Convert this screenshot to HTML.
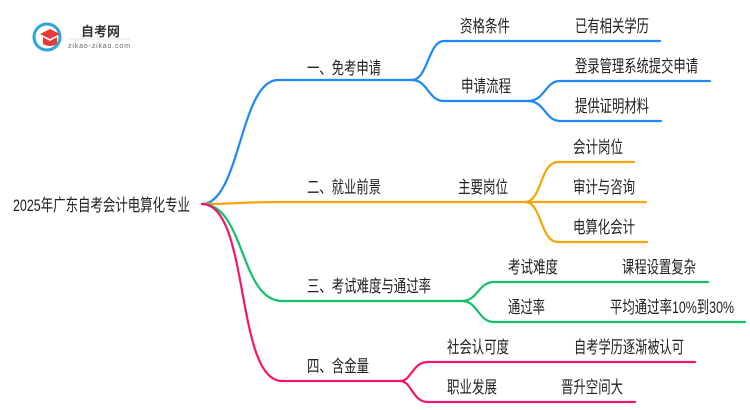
<!DOCTYPE html>
<html><head><meta charset="utf-8"><style>
html,body{margin:0;padding:0;background:#fff;}
svg{display:block;}
text{font-family:"Liberation Sans","Noto Sans CJK SC",sans-serif;font-size:17px;fill:#222;}
</style></head><body>
<svg width="750" height="410" viewBox="0 0 750 410" xmlns="http://www.w3.org/2000/svg">
<g fill="none" stroke-width="2.2" stroke-linecap="round">
<path d="M202 204 C240 204 240 80 278 80 L412 80" stroke="#1e88f5"/>
<path d="M412 80 C428 80 428 41 444 41 L660 41" stroke="#1e88f5"/>
<path d="M412 80 C428 80 428 101 444 101 L528 101" stroke="#1e88f5"/>
<path d="M528 101 C545 101 545 81 560 81 L710 81" stroke="#1e88f5"/>
<path d="M528 101 C545 101 545 121 560 121 L661 121" stroke="#1e88f5"/>
<path d="M202 204 C240 204 240 202 280 202 L525 202" stroke="#f5a50a"/>
<path d="M525 202 C542 202 540 162 558 162 L634 162" stroke="#f5a50a"/>
<path d="M525 202 L646 202" stroke="#f5a50a"/>
<path d="M525 202 C542 202 540 242 558 242 L647 242" stroke="#f5a50a"/>
<path d="M202 204 C245 204 240 301 282 301 L462 301" stroke="#12c06a"/>
<path d="M462 301 C478 301 478 282 494 282 L708 282" stroke="#12c06a"/>
<path d="M462 301 C478 301 478 322 494 322 L745 322" stroke="#12c06a"/>
<path d="M202 204 C250 204 235 381 282 381 L400 381" stroke="#f5156c"/>
<path d="M400 381 C412 381 412 362 428 362 L695 362" stroke="#f5156c"/>
<path d="M400 381 C412 381 412 402 428 402 L635 402" stroke="#f5156c"/>
</g>
<circle cx="47" cy="37" r="13" fill="none" stroke="#2aa7d8" stroke-width="3"/>
<path d="M40 34 L50 29 L60 34 L50 39 Z" fill="#e8393a"/>
<path d="M43 37 L43 44 Q50 48 57 44 L57 37 L50 41 Z" fill="#e8393a"/>
<text x="81" y="36" style="font-size:13px;font-weight:bold;fill:#333">自考网</text>
<line x1="67" y1="39" x2="130" y2="39" stroke="#ccc" stroke-width="0.6"/>
<text x="68" y="48" style="font-size:7px;fill:#666" textLength="62">zikao-zikao.com</text>
<text x="13" y="211" textLength="177" lengthAdjust="spacingAndGlyphs">2025年广东自考会计电算化专业</text>
<text x="307" y="74" textLength="74" lengthAdjust="spacingAndGlyphs">一、免考申请</text>
<text x="460" y="32" textLength="50" lengthAdjust="spacingAndGlyphs">资格条件</text>
<text x="575" y="32" textLength="74" lengthAdjust="spacingAndGlyphs">已有相关学历</text>
<text x="461" y="92" textLength="50" lengthAdjust="spacingAndGlyphs">申请流程</text>
<text x="575" y="72" textLength="123" lengthAdjust="spacingAndGlyphs">登录管理系统提交申请</text>
<text x="575" y="112" textLength="74" lengthAdjust="spacingAndGlyphs">提供证明材料</text>
<text x="307" y="193" textLength="74" lengthAdjust="spacingAndGlyphs">二、就业前景</text>
<text x="458" y="193" textLength="50" lengthAdjust="spacingAndGlyphs">主要岗位</text>
<text x="573" y="153" textLength="50" lengthAdjust="spacingAndGlyphs">会计岗位</text>
<text x="573" y="193" textLength="62" lengthAdjust="spacingAndGlyphs">审计与咨询</text>
<text x="573" y="233" textLength="62" lengthAdjust="spacingAndGlyphs">电算化会计</text>
<text x="307" y="292" textLength="124" lengthAdjust="spacingAndGlyphs">三、考试难度与通过率</text>
<text x="508" y="273" textLength="50" lengthAdjust="spacingAndGlyphs">考试难度</text>
<text x="622" y="273" textLength="74" lengthAdjust="spacingAndGlyphs">课程设置复杂</text>
<text x="508" y="313" textLength="37" lengthAdjust="spacingAndGlyphs">通过率</text>
<text x="610" y="313" textLength="124" lengthAdjust="spacingAndGlyphs">平均通过率10%到30%</text>
<text x="307" y="372" textLength="62" lengthAdjust="spacingAndGlyphs">四、含金量</text>
<text x="447" y="353" textLength="62" lengthAdjust="spacingAndGlyphs">社会认可度</text>
<text x="574" y="353" textLength="110" lengthAdjust="spacingAndGlyphs">自考学历逐渐被认可</text>
<text x="447" y="393" textLength="50" lengthAdjust="spacingAndGlyphs">职业发展</text>
<text x="561" y="393" textLength="62" lengthAdjust="spacingAndGlyphs">晋升空间大</text>
</svg>
</body></html>
